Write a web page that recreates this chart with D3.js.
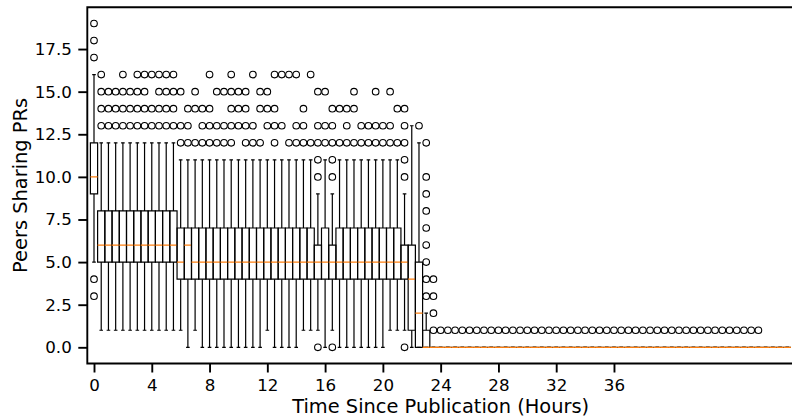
<!DOCTYPE html>
<html><head><meta charset="utf-8">
<script src="https://cdn.jsdelivr.net/npm/d3@7"></script>
<style>body{margin:0;background:#fff}svg{display:block}</style>
</head><body>
<script>
// Box positions (hours since publication, 30-minute bins)
const hours = [0,0.5,1,1.5,2,2.5,3,3.5,4,4.5,5,5.5,6,6.5,7,7.5,8,8.5,9,9.5,
  10,10.5,11,11.5,12,12.5,13,13.5,14,14.5,15,15.5,16,16.5,17,17.5,18,18.5,19,19.5,
  20,20.5,21,21.5,22,22.5,23,23.5,24,24.5,25,25.5,26,26.5,27,27.5,28,28.5,29,29.5,
  30,30.5,31,31.5,32,32.5,33,33.5,34,34.5,35,35.5,36,36.5,37,37.5,38,38.5,39,39.5,
  40,40.5,41,41.5,42,42.5,43,43.5,44,44.5,45,45.5,46,46.5,47,47.5,48];
const q1 = [9,5,5,5,5,5,5,5,5,5, 5,5,4,4,4,4,4,4,4,4, 4,4,4,4,4,4,4,4,4,4,
  4,4,4,4,4,4,4,4,4,4, 4,4,4,4,1,0,0,0,0,0, 0,0,0,0,0,0,0,0,0,0,
  0,0,0,0,0,0,0,0,0,0, 0,0,0,0,0,0,0,0,0,0, 0,0,0,0,0,0,0,0,0,0, 0,0,0,0,0,0,0];
const medians = [10,6,6,6,6,6,6,6,6,6, 6,6,5,6,5,5,5,5,5,5, 5,5,5,5,5,5,5,5,5,5,
  5,5,5,5,5,5,5,5,5,5, 5,5,5,5,4,2,0,0,0,0, 0,0,0,0,0,0,0,0,0,0,
  0,0,0,0,0,0,0,0,0,0, 0,0,0,0,0,0,0,0,0,0, 0,0,0,0,0,0,0,0,0,0, 0,0,0,0,0,0,0];
const q3 = [12,8,8,8,8,8,8,8,8,8, 8,8,7,7,7,7,7,7,7,7, 7,7,7,7,7,7,7,7,7,7,
  7,6,7,6,7,7,7,7,7,7, 7,7,7,6,6,5,1,0,0,0, 0,0,0,0,0,0,0,0,0,0,
  0,0,0,0,0,0,0,0,0,0, 0,0,0,0,0,0,0,0,0,0, 0,0,0,0,0,0,0,0,0,0, 0,0,0,0,0,0,0];
const whiskerLo = [5,1,1,1,1,1,1,1,1,1, 1,1,1,0,1,0,0,0,0,0, 0,0,0,0,1,0,0,0,0,1,
  1,1,0,1,0,0,0,0,0,0, 0,1,1,1,0,0,0,0,0,0, 0,0,0,0,0,0,0,0,0,0,
  0,0,0,0,0,0,0,0,0,0, 0,0,0,0,0,0,0,0,0,0, 0,0,0,0,0,0,0,0,0,0, 0,0,0,0,0,0,0];
const whiskerHi = [16,12,12,12,12,12,12,12,12,12, 12,12,11,11,11,11,11,11,11,11, 11,11,11,11,11,11,11,11,11,11,
  11,9,11,9,11,11,11,11,11,11, 11,11,11,9,13,12,2,0,0,0, 0,0,0,0,0,0,0,0,0,0,
  0,0,0,0,0,0,0,0,0,0, 0,0,0,0,0,0,0,0,0,0, 0,0,0,0,0,0,0,0,0,0, 0,0,0,0,0,0,0];
const fliers = [
  [3,4,17,18,19],[13,14,15,16],[13,14,15],[13,14,15],[13,14,15,16],[13,14,15],[13,14,15,16],[13,14,15,16],[13,14,16],[13,14,15,16],
  [13,14,15,16],[13,14,15,16],[12,13,15],[12,13,14],[12,14,15],[12,13,14],[12,13,14,16],[12,13,15],[12,13,15],[12,13,14,15,16],
  [13,14,15],[12,13,14,15],[12,13,16],[12,14,15],[13,14,15],[12,13,14,16],[13,16],[12,16],[12,13,16],[12,13,14],
  [12,16],[0,10,11,12,13,15],[12,13,15],[0,10,11,12,13,14],[12,14],[12,13,14],[12,14,15],[12,13],[12,13],[12,13,15],
  [12,13],[12,13,15],[12,14],[0,10,11,12,13,14],[],[13],[3,4,5,6,7,8,9,10,12],[1,2,3,4],[1],[1],
  [1],[1],[1],[1],[1],[1],[1],[1],[1],[1],
  [1],[1],[1],[1],[1],[1],[1],[1],[1],[1],
  [1],[1],[1],[1],[1],[1],[1],[1],[1],[1],
  [1],[1],[1],[1],[1],[1],[1],[1],[1],[1],
  [1],[1],[1],[],[],[],[]
];
const xTicks = [0,4,8,12,16,20,24,28,32,36];
const yTicks = [0,2.5,5,7.5,10,12.5,15,17.5];
const xLabel = "Time Since Publication (Hours)";
const yLabel = "Peers Sharing PRs";

const W = 792, H = 420;
const L = 87.3, R = 794, T = 7.3, B = 363.5;
const boxWidth = 0.5; // in hours

const x = d3.scaleLinear().domain([-0.464, 48.464]).range([L, R]);
const y = d3.scaleLinear().domain([-0.95, 19.95]).range([B, T]);

const svg = d3.select("body").append("svg").attr("width", W).attr("height", H)
  .style("font-family", "'DejaVu Sans', sans-serif");

svg.append("defs").append("clipPath").attr("id", "clip")
  .append("rect").attr("x", L).attr("y", T).attr("width", R - L).attr("height", B - T);

const plot = svg.append("g").attr("clip-path", "url(#clip)");
const lw = 1.2;

hours.forEach((h, i) => {
  const g = plot.append("g");
  const xc = x(h), x0 = x(h - boxWidth / 2), x1 = x(h + boxWidth / 2);
  const c0 = x(h - boxWidth / 4), c1 = x(h + boxWidth / 4);
  const line = (ax, ay, bx, by, col) => g.append("line")
    .attr("x1", ax).attr("y1", ay).attr("x2", bx).attr("y2", by)
    .attr("stroke", col || "#000").attr("stroke-width", lw);
  // whiskers
  line(xc, y(q1[i]), xc, y(whiskerLo[i]));
  line(xc, y(q3[i]), xc, y(whiskerHi[i]));
  // caps
  line(c0, y(whiskerLo[i]), c1, y(whiskerLo[i]));
  line(c0, y(whiskerHi[i]), c1, y(whiskerHi[i]));
  // box
  g.append("path")
    .attr("d", `M${x0},${y(q1[i])}H${x1}V${y(q3[i])}H${x0}Z`)
    .attr("fill", "none").attr("stroke", "#000").attr("stroke-width", lw);
  // median
  line(x0, y(medians[i]), x1, y(medians[i]), "#ff7f0e");
  // fliers
  g.selectAll("circle").data(fliers[i]).join("circle")
    .attr("cx", xc).attr("cy", d => y(d)).attr("r", 3.3)
    .attr("fill", "none").attr("stroke", "#000").attr("stroke-width", 1.1);
});

// axes
const tickFont = "16.7px";
const xAxis = svg.append("g").attr("transform", `translate(0,${B})`)
  .call(d3.axisBottom(x).tickValues(xTicks).tickFormat(d3.format("d")).tickSize(9).tickPadding(6.5));
const yAxis = svg.append("g").attr("transform", `translate(${L},0)`)
  .call(d3.axisLeft(y).tickValues(yTicks).tickFormat(d3.format(".1f")).tickSize(9).tickPadding(6.5));
[xAxis, yAxis].forEach(a => {
  a.select(".domain").remove();
  a.selectAll(".tick line").attr("stroke", "#000").attr("stroke-width", 1.9);
  a.selectAll(".tick text").attr("fill", "#000").style("font-size", tickFont)
    .style("font-family", "'DejaVu Sans', sans-serif");
});

// spines
svg.append("path")
  .attr("d", `M${R},${T}H${L}V${B}H${R}`)
  .attr("fill", "none").attr("stroke", "#000").attr("stroke-width", 1.9);

// labels
svg.append("text").attr("x", (L + R) / 2).attr("y", 412.7).attr("text-anchor", "middle")
  .style("font-size", "19.4px").attr("fill", "#000").text(xLabel);
svg.append("text").attr("transform", `translate(26.5,${(T + B) / 2}) rotate(-90)`)
  .attr("text-anchor", "middle").style("font-size", "19.4px").attr("fill", "#000").text(yLabel);
</script>
</body></html>
